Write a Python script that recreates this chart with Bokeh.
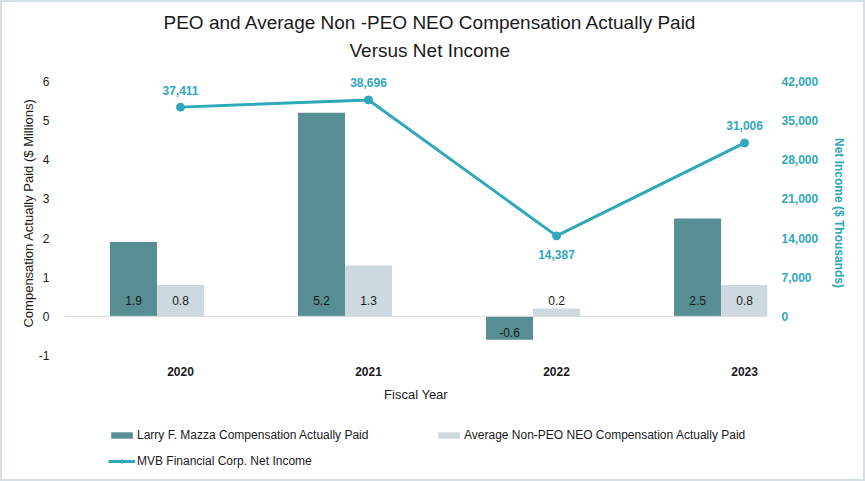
import numpy as np
from bokeh.plotting import figure
from bokeh.layouts import column
from bokeh.models import (Range1d, LinearAxis, FixedTicker, NumeralTickFormatter,
                          Span, Title, Legend, LegendItem, ColumnDataSource)
from bokeh.core.properties import value
from bokeh.embed import file_html
from bokeh.resources import INLINE

# Compensation actually paid ($ millions) and net income ($ thousands)
years = ["2020", "2021", "2022", "2023"]
peo_cap = [1.9, 5.2, -0.6, 2.5]
neo_avg_cap = [0.8, 1.3, 0.2, 0.8]
net_income = [37411, 38696, 14387, 31006]
left_ticks = [-1, 0, 1, 2, 3, 4, 5, 6]
right_ticks = [0, 7000, 14000, 21000, 28000, 35000, 42000]

FONT = "Liberation Sans"
PEO_COLOR = "#578E94"
NEO_COLOR = "#CDD9DE"
TEAL = "#2FA8BA"
TEXT = "#1A1A1A"

W = 861
H_CHART, H_LEGEND = 416, 61
FL, FR, FT, FB = 62, 765, 68, 353   # plot frame edges (canvas px)
Y_TOP = 6.28                         # a little headroom above the 6 tick
NI_PER_UNIT = 7000                   # right axis units per left axis unit

p = figure(width=W, height=H_CHART, output_backend="svg", toolbar_location=None,
           x_range=Range1d(-0.617, 3.122), y_range=Range1d(-1, Y_TOP),
           min_border_left=FL, min_border_right=W - FR,
           min_border_top=FT, min_border_bottom=H_CHART - FB,
           outline_line_color=None, background_fill_color="white",
           border_fill_color="white")
p.grid.visible = False


def style_axis(ax, color, bold, standoff):
    ax.axis_line_color = None
    ax.major_tick_line_color = None
    ax.minor_tick_line_color = None
    ax.major_tick_in = 0
    ax.major_tick_out = 0
    ax.major_label_standoff = standoff
    ax.major_label_text_font = FONT
    ax.major_label_text_font_size = "12px"
    ax.major_label_text_color = color
    ax.major_label_text_font_style = "bold" if bold else "normal"
    ax.axis_label_text_font = FONT


# category axis
idx = np.arange(len(years))
xa = p.xaxis[0]
xa.ticker = FixedTicker(ticks=list(idx))
xa.major_label_overrides = {int(i): y for i, y in zip(idx, years)}
style_axis(xa, TEXT, True, 11)
xa.axis_label = "Fiscal Year"
xa.axis_label_text_font_size = "13px"
xa.axis_label_text_font_style = "normal"
xa.axis_label_text_color = TEXT
xa.axis_label_standoff = 8

# left axis: compensation
ya = p.yaxis[0]
ya.ticker = FixedTicker(ticks=left_ticks)
ya.major_label_overrides = {t: str(t) for t in left_ticks}
style_axis(ya, TEXT, False, 15)
ya.axis_label = "Compensation Actually Paid ($ Millions)"
ya.axis_label_text_font_size = "13px"
ya.axis_label_text_font_style = "normal"
ya.axis_label_text_color = TEXT
ya.axis_label_standoff = 0

# right axis: net income
p.extra_y_ranges = {"ni": Range1d(-NI_PER_UNIT, Y_TOP * NI_PER_UNIT)}
ra = LinearAxis(y_range_name="ni", ticker=FixedTicker(ticks=right_ticks),
                formatter=NumeralTickFormatter(format="0,0"))
style_axis(ra, TEAL, True, 14)
ra.axis_label = "Net Income ($ Thousands)"
ra.axis_label_text_font_size = "12px"
ra.axis_label_text_font_style = "bold"
ra.axis_label_text_color = TEAL
ra.axis_label_standoff = 11
p.add_layout(ra, "right")

p.add_layout(Span(location=0, dimension="width", line_color="#D9D9D9", line_width=1))

bw = 0.25
p.vbar(x=idx - bw, top=peo_cap, width=bw, fill_color=PEO_COLOR, line_color=None)
p.vbar(x=idx, top=neo_avg_cap, width=bw, fill_color=NEO_COLOR, line_color=None)

p.line(idx, net_income, y_range_name="ni", line_width=3, color=TEAL)
p.scatter(idx, net_income, y_range_name="ni", size=8, color=TEAL)

# value labels at the base of the bars
bar_x = list(idx - bw) + list(idx)
bar_v = peo_cap + neo_avg_cap
bar_src = ColumnDataSource(dict(
    x=bar_x, y=[0] * len(bar_v),
    text=[f"{v:.1f}" for v in bar_v],
    dy=[-16 if v >= 0 else 16 for v in bar_v]))
p.text(x="x", y="y", text="text", y_offset="dy", source=bar_src,
       text_align="center", text_baseline="middle",
       text_font=value(FONT), text_font_size="12px", text_color=TEXT)

# net income labels (the lowest point is labelled underneath)
low = min(net_income)
ni_src = ColumnDataSource(dict(
    x=list(idx), y=net_income, text=[f"{v:,}" for v in net_income],
    dy=[19 if v == low else -17 for v in net_income]))
p.text(x="x", y="y", text="text", y_offset="dy", source=ni_src, y_range_name="ni",
       text_align="center", text_baseline="middle",
       text_font=value(FONT), text_font_size="12px", text_font_style="bold",
       text_color=TEAL)

# two-line title, nearest line first
for txt, off, stand in [("Versus Net Income", 285, 19),
                        ("PEO and Average Non -PEO NEO Compensation Actually Paid", 99, -9)]:
    p.add_layout(Title(text=txt, align="left", offset=off, standoff=stand,
                       text_font=FONT, text_font_size="19px",
                       text_font_style="normal", text_color=TEXT), "above")

# legend strip underneath the chart; its frame lines up with the chart's frame.
# The key renderers hold a single NaN point so that only their legend swatches show.
lg = figure(width=W, height=H_LEGEND, output_backend="svg", toolbar_location=None,
            x_range=Range1d(0, 1), y_range=Range1d(0, 1),
            x_axis_location=None, y_axis_location=None, min_border=0,
            outline_line_color=None, background_fill_color="white",
            border_fill_color="white")
lg.grid.visible = False
nan = [float("nan")]
k_peo = lg.vbar(x=nan, top=nan, width=0.1, fill_color=PEO_COLOR, line_color=None)
k_neo = lg.vbar(x=nan, top=nan, width=0.1, fill_color=NEO_COLOR, line_color=None)
k_line = lg.line(x=nan, y=nan, line_width=3, color=TEAL)
k_dot = lg.scatter(x=nan, y=nan, size=8, color=TEAL)


def legend_block(items, loc):
    leg = Legend(items=items, location=loc, orientation="vertical",
                 glyph_width=27, glyph_height=8, label_height=8, label_standoff=2,
                 spacing=12, padding=0, margin=0, border_line_color=None,
                 background_fill_alpha=0, label_text_font=FONT,
                 label_text_font_size="12px", label_text_color=TEXT)
    lg.add_layout(leg)


legend_block([LegendItem(label="Larry F. Mazza Compensation Actually Paid", renderers=[k_peo]),
              LegendItem(label="MVB Financial Corp. Net Income", renderers=[k_line, k_dot])],
             (106 - FL, 11))
legend_block([LegendItem(label="Average Non-PEO NEO Compensation Actually Paid",
                         renderers=[k_neo])], (433 - FL, 37))

layout = column(p, lg, spacing=0)
layout.styles = {"border": "2px solid #D5DEE3", "background-color": "white"}

open("out.html", "w").write(file_html(layout, INLINE))
